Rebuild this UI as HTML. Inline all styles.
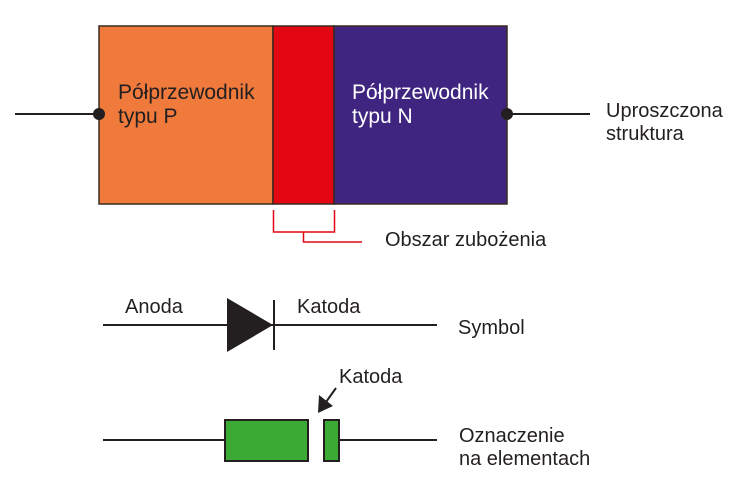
<!DOCTYPE html>
<html><head><meta charset="utf-8"><style>
html,body{margin:0;padding:0;background:#fff;}
svg text{font-family:"Liberation Sans",Arial,sans-serif;font-size:20px;fill:#231f20;}
</style></head><body>
<svg width="740" height="487" viewBox="0 0 740 487" xmlns="http://www.w3.org/2000/svg">
<rect x="99" y="26" width="174" height="178" fill="#ef7a3c" stroke="#3a2a20" stroke-width="1.5"/>
<rect x="273" y="26" width="61" height="178" fill="#e30613" stroke="#3a2a20" stroke-width="1.5"/>
<rect x="334" y="26" width="173" height="178" fill="#3f2580" stroke="#3a2a20" stroke-width="1.5"/>
<line x1="15" y1="114" x2="99" y2="114" stroke="#231f20" stroke-width="2"/>
<line x1="507" y1="114" x2="590" y2="114" stroke="#231f20" stroke-width="2"/>
<circle cx="99" cy="114" r="6" fill="#231f20"/>
<circle cx="507" cy="114" r="6" fill="#231f20"/>
<text x="118" y="99" style="font-size:21px">Półprzewodnik</text>
<text x="118" y="123" style="font-size:21px">typu P</text>
<text x="352" y="99" style="font-size:21px;fill:#fff">Półprzewodnik</text>
<text x="352" y="123" style="font-size:21px;fill:#fff">typu N</text>
<text x="606" y="117">Uproszczona</text>
<text x="606" y="140">struktura</text>
<path d="M273.5 210 V232 H334.5 V210 M303.5 232 V242 H362" fill="none" stroke="#e30613" stroke-width="1.5"/>
<text x="385" y="246">Obszar zubożenia</text>
<line x1="103" y1="325" x2="437" y2="325" stroke="#231f20" stroke-width="2"/>
<polygon points="227,298 227,352 273,325" fill="#231f20"/>
<line x1="274" y1="300" x2="274" y2="350" stroke="#231f20" stroke-width="2"/>
<text x="125" y="313">Anoda</text>
<text x="297" y="313">Katoda</text>
<text x="458" y="334">Symbol</text>
<line x1="103" y1="440" x2="225" y2="440" stroke="#231f20" stroke-width="2"/>
<line x1="339" y1="440" x2="437" y2="440" stroke="#231f20" stroke-width="2"/>
<rect x="225" y="420" width="83" height="41" fill="#3aaa35" stroke="#231f20" stroke-width="2"/>
<rect x="324" y="420" width="15" height="41" fill="#3aaa35" stroke="#231f20" stroke-width="2"/>
<line x1="336" y1="388" x2="326" y2="402" stroke="#231f20" stroke-width="2"/>
<polygon points="318,413 319,395 333,406" fill="#231f20"/>
<text x="339" y="383">Katoda</text>
<text x="459" y="442">Oznaczenie</text>
<text x="459" y="465">na elementach</text>
</svg>
</body></html>
